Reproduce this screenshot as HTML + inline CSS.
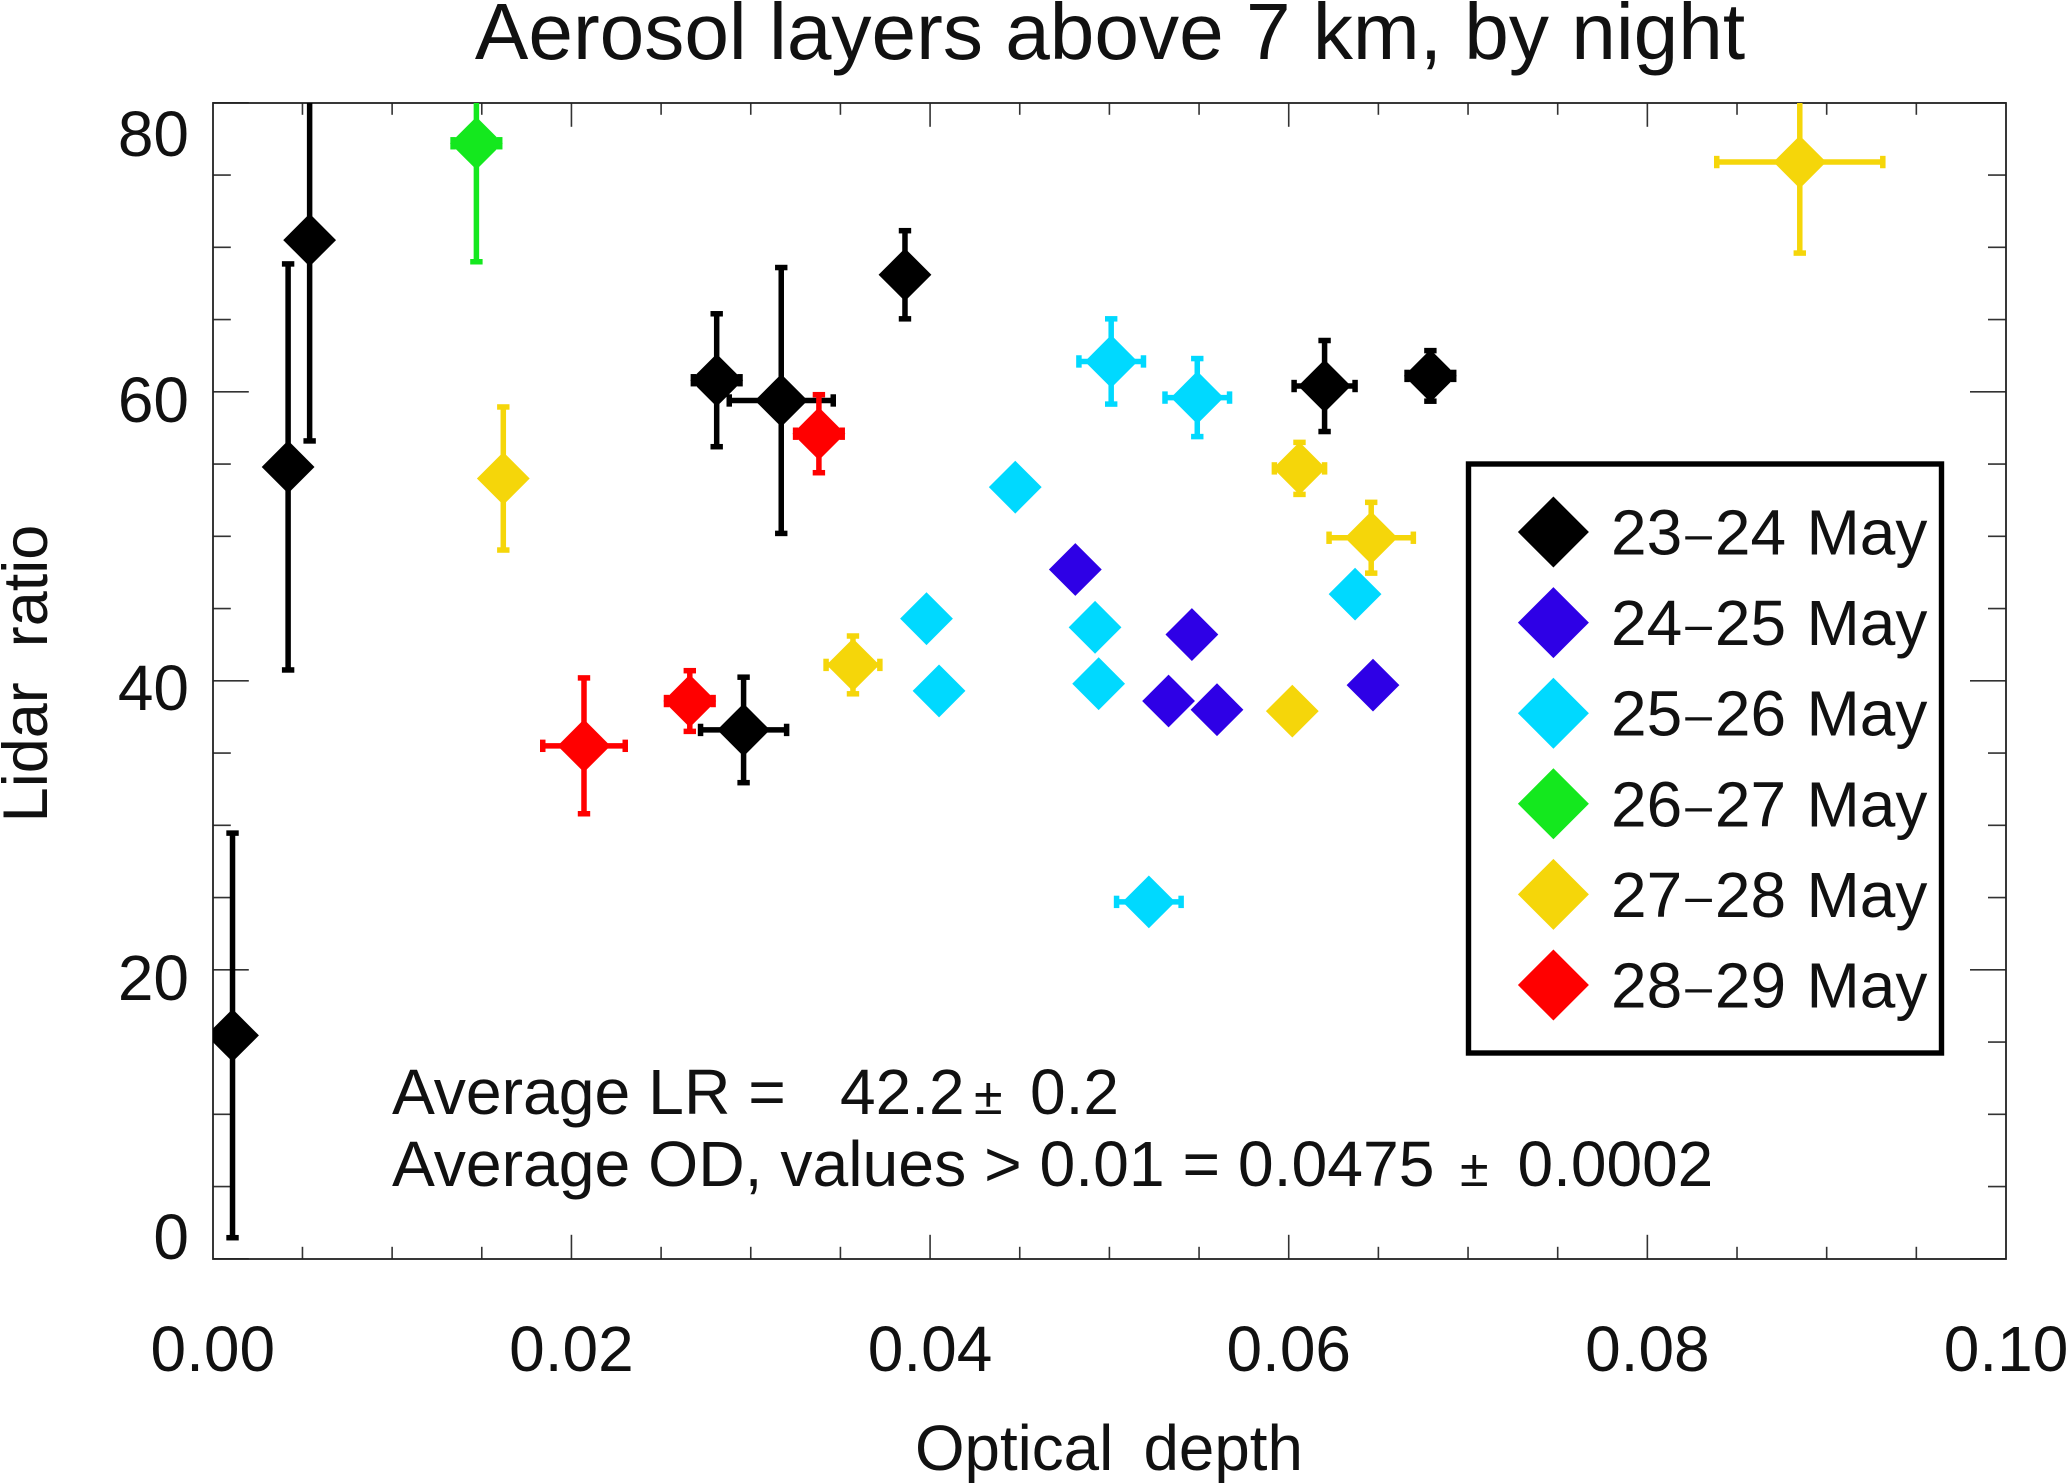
<!DOCTYPE html>
<html lang="en">
<head>
<meta charset="utf-8">
<title>Aerosol layers above 7 km, by night</title>
<style>
html,body{margin:0;padding:0;background:#fff;}
svg{display:block;}
text{font-family:"Liberation Sans",sans-serif;fill:#111;}
</style>
</head>
<body>
<svg id="chart" xmlns="http://www.w3.org/2000/svg" width="2066" height="1483" viewBox="0 0 2066 1483">
  <defs>
    <clipPath id="plot-clip"><rect x="213" y="103" width="1793" height="1156"/></clipPath>
  </defs>
  <text x="1110" y="59" font-size="80.2" text-anchor="middle">Aerosol layers above 7 km, by night</text>
  <text transform="translate(47,673.5) rotate(-90)" font-size="63" text-anchor="middle">Lidar&#160; ratio</text>
  <text y="1470" font-size="63.7"><tspan x="915">Optical</tspan> <tspan x="1143.5">depth</tspan></text>

  <text x="189" y="156" font-size="64" text-anchor="end">80</text>
  <text x="189" y="422" font-size="64" text-anchor="end">60</text>
  <text x="189" y="710" font-size="64" text-anchor="end">40</text>
  <text x="189" y="1000" font-size="64" text-anchor="end">20</text>
  <text x="189" y="1259" font-size="64" text-anchor="end">0</text>

  <g id="grid-ticks"></g>
  <rect x="213" y="103" width="1793" height="1156" fill="none" stroke="#222" stroke-width="1.8"/>
  <g id="x-labels"></g>
  <g id="marks" clip-path="url(#plot-clip)"></g>

  <g>
    <text x="392" y="1114" font-size="64.3">Average LR =</text>
    <text x="840" y="1114" font-size="64">42.2</text>
    <text x="974" y="1114" font-size="52">±</text>
    <text x="1030" y="1114" font-size="64">0.2</text>
    <text x="392" y="1186" font-size="64.3">Average OD, values &gt; 0.01 = 0.0475</text>
    <text x="1460" y="1186" font-size="52">±</text>
    <text x="1517.5" y="1186" font-size="64">0.0002</text>
  </g>

  <g id="legend">
    <rect x="1468.5" y="464" width="473" height="589" fill="#fff" stroke="#000" stroke-width="5.4"/>
  </g>
</svg>
<script>
// ---- chart data ----
const xTickLabels = ["0.00", "0.02", "0.04", "0.06", "0.08", "0.10"];
const xTickValues = [0, 0.02, 0.04, 0.06, 0.08, 0.1];

const legendStart = ["23", "24", "25", "26", "27", "28"];
const legendEnd = ["24", "25", "26", "27", "28", "29"];
const seriesColors = ["#000000", "#2e00e6", "#00d9ff", "#14e81e", "#f5d60a", "#ff0000"];

const may23X = [0.0011, 0.0042, 0.0054, 0.0281, 0.0296, 0.0317, 0.0386, 0.0620, 0.0679];
const may23Y = [15.46, 54.8, 70.5, 60.8, 36.6, 59.4, 68.1, 60.4, 61.1];
const may23XErr = [0, 0, 0, 0.0013, 0.0024, 0.0029, 0, 0.0017, 0.0013];
const may23YErr = [14.0, 14.05, 13.9, 4.6, 3.65, 9.2, 3.05, 3.15, 1.75];

const may24X = [0.0481, 0.0533, 0.0546, 0.0560, 0.0647];
const may24Y = [47.7, 38.6, 43.2, 38.0, 39.7];
const may24XErr = [0, 0, 0, 0, 0];
const may24YErr = [0, 0, 0, 0, 0];

const may25X = [0.0398, 0.0405, 0.04475, 0.0492, 0.0494, 0.0501, 0.0522, 0.0549, 0.0637];
const may25Y = [44.3, 39.3, 53.4, 43.7, 39.8, 62.1, 24.7, 59.6, 46.0];
const may25XErr = [0, 0, 0, 0, 0, 0.0018, 0.0018, 0.0018, 0];
const may25YErr = [0, 0, 0, 0, 0, 2.95, 0, 2.7, 0];

const may26X = [0.0147];
const may26Y = [77.2];
const may26XErr = [0.0013];
const may26YErr = [8.2];

const may27X = [0.0162, 0.0357, 0.0602, 0.0606, 0.0646, 0.0885];
const may27Y = [54.0, 41.1, 37.9, 54.7, 49.9, 75.9];
const may27XErr = [0, 0.0015, 0, 0.0014, 0.00235, 0.00463];
const may27YErr = [4.95, 2.0, 0, 1.8, 2.45, 6.3];

const may28X = [0.0207, 0.0266, 0.0338];
const may28Y = [35.5, 38.6, 57.1];
const may28XErr = [0.0023, 0.0013, 0.0013];
const may28YErr = [4.7, 2.1, 2.7];

const seriesX = [may23X, may24X, may25X, may26X, may27X, may28X];
const seriesY = [may23Y, may24Y, may25Y, may26Y, may27Y, may28Y];
const seriesXErr = [may23XErr, may24XErr, may25XErr, may26XErr, may27XErr, may28XErr];
const seriesYErr = [may23YErr, may24YErr, may25YErr, may26YErr, may27YErr, may28YErr];

// ---- axes ----
const NS = "http://www.w3.org/2000/svg";
const plotLeft = 212.8, plotRight = 2006, plotTop = 102.8, plotBottom = 1258.8;
function xScale(v) { return plotLeft + (v / 0.1) * (plotRight - plotLeft); }
function yScale(v) { return plotBottom - (v / 80) * (plotBottom - plotTop); }

function make(tag, attrs, parent) {
  const el = document.createElementNS(NS, tag);
  for (const k in attrs) el.setAttribute(k, attrs[k]);
  parent.appendChild(el);
  return el;
}
function tickLine(x1, y1, x2, y2, parent) {
  const el = make("line", {x1: x1, y1: y1, x2: x2, y2: y2, stroke: "#333", "stroke-width": 1.6}, parent);
  
  
}

const ticksGroup = document.getElementById("grid-ticks");
for (let i = 1; i < 20; i++) {
  const x = xScale(i * 0.005);
  const len = i % 4 === 0 ? 24 : 12;
  tickLine(x, plotBottom, x, plotBottom - len, ticksGroup);
  tickLine(x, plotTop, x, plotTop + len, ticksGroup);
}
for (let i = 0; i <= 16; i++) {
  const y = yScale(i * 5);
  const len = i % 4 === 0 ? 36 : 18;
  tickLine(plotLeft, y, plotLeft + len, y, ticksGroup);
  tickLine(plotRight, y, plotRight - len, y, ticksGroup);
}

const xLabelGroup = document.getElementById("x-labels");
xTickLabels.forEach(function (label, i) {
  const t = make("text", {x: xScale(xTickValues[i]), y: 1371, "font-size": 64, "text-anchor": "middle"}, xLabelGroup);
  t.textContent = label;
  
  
});

// ---- marks ----
function diamond(cx, cy, r, color, parent) {
  const el = make("polygon", {
    points: (cx - r) + "," + cy + " " + cx + "," + (cy - r) + " " + (cx + r) + "," + cy + " " + cx + "," + (cy + r),
    fill: color
  }, parent);
  return el;
}
function segment(x1, y1, x2, y2, color, parent) {
  const el = make("line", {x1: x1, y1: y1, x2: x2, y2: y2, stroke: color, "stroke-width": 5.5}, parent);
  
  
}

const marks = document.getElementById("marks");
seriesX.forEach(function (xs, s) {
  const color = seriesColors[s];
  const group = make("g", {}, marks);
  
  
  xs.forEach(function (xv, i) {
    const yv = seriesY[s][i], ex = seriesXErr[s][i], ey = seriesYErr[s][i];
    const cx = xScale(xv), cy = yScale(yv);
    if (ey > 0) {
      const top = yScale(yv + ey), bot = yScale(yv - ey);
      segment(cx, top, cx, bot, color, group);
      segment(cx - 6.2, top, cx + 6.2, top, color, group);
      segment(cx - 6.2, bot, cx + 6.2, bot, color, group);
    }
    if (ex > 0) {
      const lo = xScale(xv - ex), hi = xScale(xv + ex);
      segment(lo, cy, hi, cy, color, group);
      segment(lo, cy - 6.2, lo, cy + 6.2, color, group);
      segment(hi, cy - 6.2, hi, cy + 6.2, color, group);
    }
    const point = diamond(cx, cy, 26.4, color, group);
    
    
  });
});

// ---- legend ----
const legend = document.getElementById("legend");
legendStart.forEach(function (startDay, i) {
  const entry = make("g", {}, legend);
  
  
  const cy = 532 + i * 90.6;
  const marker = diamond(1553.4, cy, 35.5, seriesColors[i], entry);
  
  
  const t = make("text", {x: 1611, y: cy + 22.5, "font-size": 64}, entry);
  
  
  t.appendChild(document.createTextNode(startDay));
  const dash = make("tspan", {"font-size": 48, dx: 3, dy: -4.5}, t);
  dash.textContent = "–";
  const rest = make("tspan", {dx: 3, dy: 4.5}, t);
  rest.textContent = legendEnd[i] + " ";
  const month = make("tspan", {dx: 2.6}, t);
  month.textContent = "May";
});
</script>
</body>
</html>
